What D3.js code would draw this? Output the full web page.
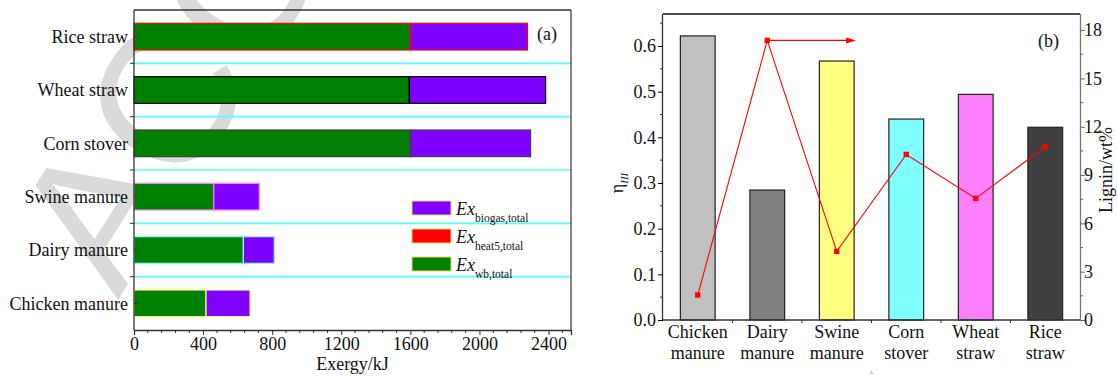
<!DOCTYPE html>
<html><head><meta charset="utf-8">
<script src="https://cdn.jsdelivr.net/npm/d3@7"></script>
<style>
html,body{margin:0;padding:0;background:#fff;}
svg{display:block;font-family:"Liberation Serif","Times New Roman",serif;}
</style></head>
<body>
<svg id="c" width="1117" height="379"></svg>
<script>
// ---------- data: panel (a) ----------
const catsA = ["Rice straw","Wheat straw","Corn stover","Swine manure","Dairy manure","Chicken manure"];
const exWb = [1600, 1594, 1600, 462, 633, 417];
const exHeat5 = [0, 0, 0, 0, 0, 0];
const exBiogas = [678, 789, 696, 263, 179, 255];
const strokeA = ["#ff0000","#000000","#404040","#ff80ff","#80ffff","#ffff80"];
const xTicksA = [0, 400, 800, 1200, 1600, 2000, 2400];
const legendA = [
  {sub:"biogas,total", color:"#8000ff"},
  {sub:"heat5,total", color:"#ff0000"},
  {sub:"wb,total", color:"#008000"}
];
// ---------- data: panel (b) ----------
const catsB = [["Chicken","manure"],["Dairy","manure"],["Swine","manure"],["Corn","stover"],["Wheat","straw"],["Rice","straw"]];
const etaIII = [0.622, 0.2845, 0.567, 0.44, 0.494, 0.422];
const barColorsB = ["#c0c0c0","#808080","#ffff80","#80ffff","#ff80ff","#404040"];
const lignin = [1.55, 17.36, 4.26, 10.28, 7.55, 10.76];
const yTicksB = [0, 0.1, 0.2, 0.3, 0.4, 0.5, 0.6];
const y2TicksB = [0, 3, 6, 9, 12, 15, 18];

const svg = d3.select("#c");
const FS = 18;

// watermark (behind everything)
svg.append("text")
  .attr("transform","translate(118,300) rotate(-58)")
  .attr("font-family","Liberation Sans, Arial, sans-serif")
  .attr("font-size",190)
  .attr("fill","#dadada")
  .text("ACCEPTED");

// ================= Panel (a) =================
const A = {l:134, r:571, t:10, b:330};
const xA = d3.scaleLinear().domain([0,2530]).range([A.l, A.r]);
const yA = d3.scaleBand().domain(catsA).range([A.t, A.b]).paddingInner(0.5).paddingOuter(0.25);
const stepA = yA.step();

// cyan separators
const gA = svg.append("g");
gA.selectAll("line.sep").data(catsA.slice(1)).join("line")
  .attr("x1",A.l).attr("x2",A.r)
  .attr("y1",d=>yA(d)-yA.paddingOuter()*stepA*1 - 0.0*stepA + (stepA*0.25 - stepA*0.25) - stepA*0.25 + 0)
  .attr("y2",d=>yA(d)-stepA*0.25)
  .attr("stroke","#55ffff").attr("stroke-width",1.6);
gA.selectAll("line.sep2").remove();
gA.selectAll("line").attr("y1",function(){return d3.select(this).attr("y2");});

// stacked bars
const stacks = catsA.map((c,i)=>({c, i, segs:[
  {x0:0, x1:exWb[i], color:"#008000"},
  {x0:exWb[i], x1:exWb[i]+exHeat5[i], color:"#ff0000"},
  {x0:exWb[i]+exHeat5[i], x1:exWb[i]+exHeat5[i]+exBiogas[i], color:"#8000ff"}
]}));
stacks.forEach(s=>{
  gA.selectAll(null).data(s.segs).join("rect")
    .attr("x",d=>xA(d.x0)).attr("y",yA(s.c))
    .attr("width",d=>xA(d.x1)-xA(d.x0)).attr("height",yA.bandwidth())
    .attr("fill",d=>d.color).attr("stroke",strokeA[s.i]).attr("stroke-width",1.2);
});

// frame
gA.append("line").attr("x1",A.l).attr("x2",A.r).attr("y1",A.t).attr("y2",A.t).attr("stroke","#333").attr("stroke-width",1.3);
gA.append("line").attr("x1",A.r).attr("x2",A.r).attr("y1",A.t).attr("y2",A.b).attr("stroke","#444").attr("stroke-width",1.3);

// x axis
const xAxisA = gA.append("g").attr("transform",`translate(0,${A.b})`)
  .call(d3.axisBottom(xA).tickValues(xTicksA).tickSize(5).tickFormat(d3.format("d")));
xAxisA.select(".domain").attr("stroke","#333").attr("stroke-width",1.3);
xAxisA.selectAll(".tick line").attr("stroke","#333");
xAxisA.selectAll(".tick text").attr("font-family","Liberation Serif").attr("font-size",FS).attr("fill","#111").attr("dy","0.95em").attr("y",3);
const minorA = d3.range(0,2530,80).filter(v=>v%400!==0);
gA.selectAll("line.minx").data(minorA).join("line")
  .attr("x1",d=>xA(d)).attr("x2",d=>xA(d)).attr("y1",A.b).attr("y2",A.b+3).attr("stroke","#333");

// y axis
gA.append("line").attr("x1",A.l).attr("x2",A.l).attr("y1",A.t).attr("y2",A.b).attr("stroke","#333").attr("stroke-width",1.3);
gA.selectAll("text.yl").data(catsA).join("text")
  .attr("x",A.l-6).attr("y",d=>yA(d)+yA.bandwidth()/2).attr("dy","0.35em")
  .attr("text-anchor","end").attr("font-size",FS).attr("fill","#111").text(d=>d);
gA.selectAll("line.ytk").data(catsA).join("line")
  .attr("x1",A.l).attr("x2",A.l+3).attr("y1",d=>yA(d)+yA.bandwidth()/2).attr("y2",d=>yA(d)+yA.bandwidth()/2).attr("stroke","#333");
gA.selectAll("line.ytk2").data(catsA.slice(1)).join("line")
  .attr("x1",A.l-4).attr("x2",A.l).attr("y1",d=>yA(d)-stepA*0.25).attr("y2",d=>yA(d)-stepA*0.25).attr("stroke","#333");

// x title
gA.append("text").attr("x",(A.l+A.r)/2+0).attr("y",370).attr("text-anchor","middle").attr("font-size",FS).attr("fill","#111").text("Exergy/kJ");
// panel label
gA.append("text").attr("x",537).attr("y",40).attr("font-size",FS).attr("fill","#111").text("(a)");

// legend
const lg = gA.append("g");
legendA.forEach((d,i)=>{
  const y0 = 201 + i*28;
  lg.append("rect").attr("x",412).attr("y",y0).attr("width",39).attr("height",14)
    .attr("fill",d.color).attr("stroke","#e8d860").attr("stroke-width",1);
  const t = lg.append("text").attr("x",456).attr("y",y0+14).attr("font-size",FS).attr("fill","#111");
  t.append("tspan").attr("font-style","italic").text("Ex");
  t.append("tspan").attr("font-size",11.5).attr("dy",6.5).text(d.sub);
});

// ================= Panel (b) =================
const B = {l:663, r:1080, t:14, b:320};
const xB = d3.scaleBand().domain(catsB.map(d=>d.join(" "))).range([B.l,B.r]).paddingInner(0.5).paddingOuter(0.25);
const yB = d3.scaleLinear().domain([0,0.67]).range([B.b,B.t]);
const y2B = d3.scaleLinear().domain([0,19]).range([B.b,B.t]);
const gB = svg.append("g");
const keysB = catsB.map(d=>d.join(" "));

gB.selectAll("rect.bar").data(etaIII).join("rect")
  .attr("x",(d,i)=>xB(keysB[i])).attr("y",d=>yB(d))
  .attr("width",xB.bandwidth()).attr("height",d=>yB(0)-yB(d))
  .attr("fill",(d,i)=>barColorsB[i]).attr("stroke","#222").attr("stroke-width",1.2);

// frame
gB.append("line").attr("x1",B.l).attr("x2",B.r).attr("y1",B.t).attr("y2",B.t).attr("stroke","#111").attr("stroke-width",1.3);
// left axis
const yAxB = gB.append("g").attr("transform",`translate(${B.l},0)`)
  .call(d3.axisLeft(yB).tickValues(yTicksB).tickSize(5).tickFormat(d3.format(".1f")));
yAxB.select(".domain").attr("stroke","#333").attr("stroke-width",1.3).attr("d",`M-0.5,${B.t}V${B.b}`);
yAxB.selectAll(".tick text").attr("font-family","Liberation Serif").attr("font-size",FS).attr("fill","#111").attr("x",-7);
gB.selectAll("line.miny").data(d3.range(0.05,0.67,0.1)).join("line")
  .attr("x1",B.l-3).attr("x2",B.l).attr("y1",d=>yB(d)).attr("y2",d=>yB(d)).attr("stroke","#333");
// right axis
const y2Ax = gB.append("g").attr("transform",`translate(${B.r},0)`)
  .call(d3.axisRight(y2B).tickValues(y2TicksB).tickSize(5));
y2Ax.select(".domain").attr("stroke","#777").attr("stroke-width",1.3).attr("d",`M0.5,${B.t}V${B.b}`);
y2Ax.selectAll(".tick line").attr("stroke","#666");
y2Ax.selectAll(".tick text").attr("font-family","Liberation Serif").attr("font-size",FS).attr("fill","#111").attr("x",4);
gB.selectAll("line.miny2").data(d3.range(1.5,19,3)).join("line")
  .attr("x1",B.r).attr("x2",B.r+3).attr("y1",d=>y2B(d)).attr("y2",d=>y2B(d)).attr("stroke","#666");
// bottom axis
gB.append("line").attr("x1",B.l).attr("x2",B.r).attr("y1",B.b).attr("y2",B.b).attr("stroke","#333").attr("stroke-width",1.3);
gB.selectAll("line.xtk").data(keysB.slice(1)).join("line")
  .attr("x1",d=>xB(d)-xB.step()*0.25).attr("x2",d=>xB(d)-xB.step()*0.25)
  .attr("y1",B.b).attr("y2",B.b+3).attr("stroke","#333");
catsB.forEach((c,i)=>{
  const t = gB.append("text").attr("x",xB(keysB[i])+xB.bandwidth()/2).attr("y",338)
    .attr("text-anchor","middle").attr("font-size",FS).attr("fill","#111");
  t.append("tspan").attr("x",xB(keysB[i])+xB.bandwidth()/2).text(c[0]);
  t.append("tspan").attr("x",xB(keysB[i])+xB.bandwidth()/2).attr("dy",21).text(c[1]);
});

// lignin line
const lineG = d3.line().x((d,i)=>xB(keysB[i])+xB.bandwidth()/2).y(d=>y2B(d));
gB.append("path").datum(lignin).attr("d",lineG).attr("fill","none").attr("stroke","#ff0000").attr("stroke-width",1.1);
gB.selectAll("rect.pt").data(lignin).join("rect")
  .attr("x",(d,i)=>xB(keysB[i])+xB.bandwidth()/2-2.7).attr("y",d=>y2B(d)-2.7)
  .attr("width",5.4).attr("height",5.4).attr("fill","#ff0000");
// arrow annotation pointing to right axis
const ax0 = xB(keysB[1])+xB.bandwidth()/2, ay = y2B(lignin[1]);
const ax1 = xB(keysB[2])+xB.bandwidth()+2;
gB.append("line").attr("x1",ax0).attr("x2",ax1-6).attr("y1",ay).attr("y2",ay).attr("stroke","#ff0000").attr("stroke-width",1.1);
gB.append("path").attr("d",`M${ax1},${ay}L${ax1-10},${ay-3}L${ax1-10},${ay+3}Z`).attr("fill","#ff0000");

// titles
const etaT = gB.append("text").attr("transform","translate(623,183) rotate(-90)").attr("text-anchor","middle").attr("font-size",FS).attr("fill","#111");
etaT.append("tspan").text("η");
etaT.append("tspan").attr("font-size",11).attr("font-style","italic").attr("dy",5).text("III");
gB.append("text").attr("transform","translate(1112,170) rotate(-90)").attr("text-anchor","middle").attr("font-size",FS).attr("fill","#111").text("Lignin/wt%");
gB.append("text").attr("x",1038).attr("y",47).attr("font-size",FS).attr("fill","#111").text("(b)");
gB.append("text").attr("x",871).attr("y",374).attr("text-anchor","middle").attr("font-size",5).attr("fill","#444").text("A");
</script>
</body></html>
